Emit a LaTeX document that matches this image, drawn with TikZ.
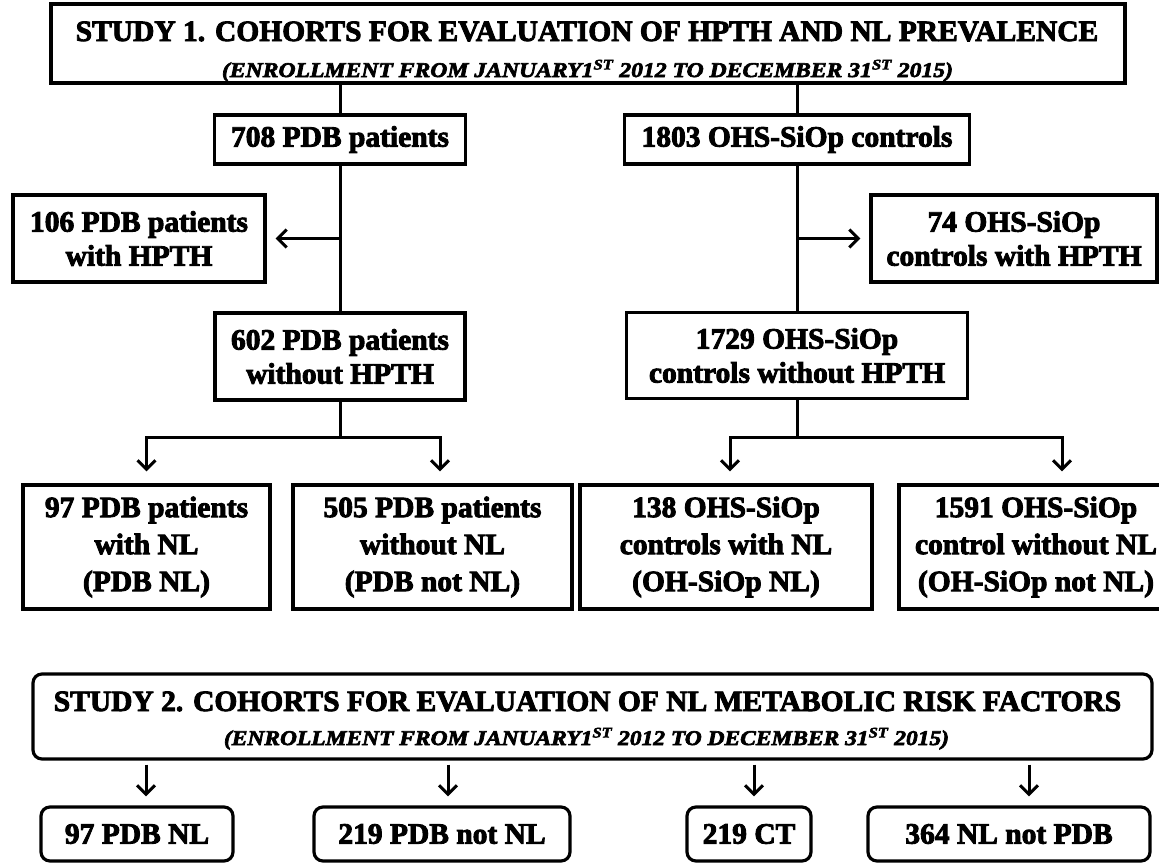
\documentclass[tikz,border=0pt]{standalone}
\usepackage{fontspec}
\setmainfont{Liberation Serif}[BoldFeatures={FakeBold=3},BoldItalicFeatures={FakeBold=3}]
\usepackage{graphicx}
\usetikzlibrary{arrows.meta,calc}
\newcommand{\mfnt}{\fontsize{29.5}{34}\selectfont\bfseries}
\newcommand{\sfnt}{\fontsize{21}{24}\selectfont\bfseries\itshape}
\begin{document}
\begin{tikzpicture}[x=1pt,y=-1pt,
  box/.style={draw, line width=3.2pt, inner sep=0pt, align=center, font=\mfnt},
  rbox/.style={box, rounded corners=9pt},
  tall/.style={font=\fontsize{29.5}{37}\selectfont\bfseries},
  lbl/.style={anchor=base, inner sep=0pt},
  conn/.style={line width=3pt},
  arr/.style={conn, -{Straight Barb[length=9pt,width=18pt]}}]
\useasboundingbox (0,0) rectangle (1159,863);

% ---------- Study 1 ----------
\node[box, minimum width=1074pt, minimum height=79pt] (s1) at (588,43.5) {};
\node[lbl, font=\mfnt] (s1t) at (587,41) {STUDY 1. COHORTS FOR EVALUATION OF HPTH AND NL PREVALENCE};
\node[lbl, font=\sfnt] (s1s) at (587.5,77) {\resizebox{731pt}{\height}{(ENROLLMENT FROM JANUARY1\textsuperscript{ST} 2012 TO DECEMBER 31\textsuperscript{ST} 2015)}};

\node[box, minimum width=251pt, minimum height=49pt] (n708) at (340,139.5) {708 PDB patients};
\node[box, minimum width=345pt, minimum height=49pt] (n1803) at (797,139.5) {1803 OHS-SiOp controls};

\node[box, minimum width=252pt, minimum height=87pt] (n106) at (139,238.5) {106 PDB patients\\with HPTH};
\node[box, minimum width=286pt, minimum height=87pt] (n74) at (1014,238.5) {74 OHS-SiOp\\controls with HPTH};

\node[box, minimum width=250pt, minimum height=87pt] (n602) at (340,356.5) {602 PDB patients\\without HPTH};
\node[box, minimum width=341pt, minimum height=86pt] (n1729) at (797,355.5) {1729 OHS-SiOp\\controls without HPTH};

\node[box, tall, minimum width=247pt, minimum height=124pt] (n97) at (146.5,547) {97 PDB patients\\with NL\\(PDB NL)};
\node[box, tall, minimum width=279pt, minimum height=124pt] (n505) at (432.5,547) {505 PDB patients\\without NL\\(PDB not NL)};
\node[box, tall, minimum width=292pt, minimum height=124pt] (n138) at (726,547) {138 OHS-SiOp\\controls with NL\\(OH-SiOp NL)};
\node[box, tall, minimum width=274pt, minimum height=124pt] (n1591) at (1036,547) {1591 OHS-SiOp\\control without NL\\(OH-SiOp not NL)};

% connectors study 1
\draw[conn] (s1.south -| n708.north) -- (n708.north);
\draw[conn] (s1.south -| n1803.north) -- (n1803.north);
\draw[conn] (n708.south) -- (n602.north);
\draw[conn] (n1803.south) -- (n1729.north);
\coordinate (b1) at (n708.south |- n106.east);
\coordinate (b2) at (n1803.south |- n74.west);
\draw[arr, shorten >=9pt] (b1) -- (n106.east);
\draw[arr, shorten >=9pt] (b2) -- (n74.west);

\coordinate (j1) at ($(n602.south)+(0,36)$);
\coordinate (j2) at (n1729.south |- j1);
\draw[conn] (n602.south) -- (j1);
\draw[conn] (n1729.south) -- (j2);
\draw[arr, shorten >=12pt] (j1) -| (n97.north);
\draw[arr, shorten >=12pt] (j1) -| ([xshift=7.5pt]n505.north);
\draw[arr, shorten >=12pt] (j2) -| ([xshift=4pt]n138.north);
\draw[arr, shorten >=12pt] (j2) -| ([xshift=26pt]n1591.north);

% ---------- Study 2 ----------
\node[rbox, minimum width=1119pt, minimum height=85pt] (s2) at (592.5,716.5) {};
\node[lbl, font=\mfnt] (s2t) at (587.5,711) {STUDY 2. COHORTS FOR EVALUATION OF NL METABOLIC RISK FACTORS};
\node[lbl, font=\sfnt] (s2s) at (586.5,745) {\resizebox{725pt}{\height}{(ENROLLMENT FROM JANUARY1\textsuperscript{ST} 2012 TO DECEMBER 31\textsuperscript{ST} 2015)}};

\node[rbox, minimum width=192pt, minimum height=54pt] (c97) at (137,834) {97 PDB NL};
\node[rbox, minimum width=256pt, minimum height=54pt] (c219) at (442,834) {219 PDB not NL};
\node[rbox, minimum width=124pt, minimum height=54pt] (cct) at (749,834) {219 CT};
\node[rbox, minimum width=282pt, minimum height=54pt] (c364) at (1009,834) {364 NL not PDB};

\draw[arr, shorten <=4pt, shorten >=9pt] ([xshift=9pt]c97.north |- s2.south) -- ([xshift=9pt]c97.north);
\draw[arr, shorten <=4pt, shorten >=9pt] ([xshift=6pt]c219.north |- s2.south) -- ([xshift=6pt]c219.north);
\draw[arr, shorten <=4pt, shorten >=9pt] ([xshift=5pt]cct.north |- s2.south) -- ([xshift=5pt]cct.north);
\draw[arr, shorten <=4pt, shorten >=9pt] ([xshift=20pt]c364.north |- s2.south) -- ([xshift=20pt]c364.north);
\end{tikzpicture}
\end{document}
